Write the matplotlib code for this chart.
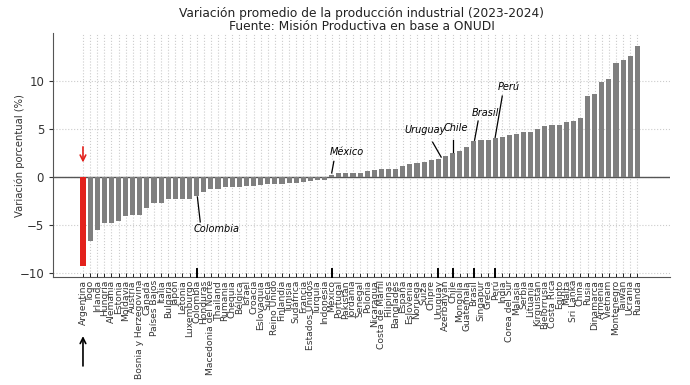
import matplotlib
matplotlib.use("Agg")
import matplotlib.pyplot as plt
import numpy as np

# data
paises = ["Argentina", "Togo", "Irlanda", "Hungría", "Alemania", "Estonia", "Moldavia", "Austria",
          "Bosnia y Herzegovina", "Canadá", "Países Bajos", "Italia", "Bulgaria", "Japón", "Letonia",
          "Luxemburgo", "Colombia", "Honduras", "Macedonia del Norte", "Thailand", "Rumania", "Chequia",
          "Bélgica", "Israel", "Croacia", "Eslovaquia", "Suecia", "Reino Unido", "Finlandia", "Tunisia",
          "Sudáfrica", "Francia", "Estados Unidos", "Turquía", "Indonesia", "México", "Portugal",
          "Pakistán", "Jordania", "Senegal", "Polonia", "Nicaragua", "Costa de Marfil", "Filipinas",
          "Bangladés", "España", "Eslovenia", "Noruega", "Suiza", "Chipre", "Uruguay", "Azerbaiyán",
          "Chile", "Mongolia", "Guatemala", "Brasil", "Singapur", "Grecia", "Perú", "India",
          "Corea del Sur", "Malasia", "Serbia", "Lituania", "Kirguistán", "Bielorrusia", "Costa Rica",
          "Egipto", "Malta", "Sri Lanka", "China", "Rusia", "Dinamarca", "Armenia", "Vietnam",
          "Montenegro", "Taiwán", "Ucrania", "Ruanda"]
variacion = [-9.3, -6.65, -5.5, -4.8, -4.8, -4.65, -4.1, -3.95,
             -3.95, -3.2, -2.75, -2.7, -2.35, -2.3, -2.3,
             -2.3, -1.95, -1.55, -1.3, -1.3, -1.1, -1.05,
             -1.05, -0.95, -0.95, -0.85, -0.8, -0.7, -0.7, -0.6,
             -0.6, -0.5, -0.4, -0.35, -0.3, 0.15, 0.35,
             0.38, 0.4, 0.4, 0.55, 0.7, 0.8, 0.8,
             0.8, 1.15, 1.3, 1.45, 1.5, 1.7, 1.85, 2.2,
             2.45, 2.65, 3.05, 3.7, 3.8, 3.8, 4.0, 4.15,
             4.35, 4.4, 4.7, 4.7, 4.95, 5.3, 5.4,
             5.4, 5.65, 5.8, 6.1, 8.4, 8.6, 9.9, 10.15,
             11.8, 12.2, 12.55, 13.6]
destacados = ["Colombia", "México", "Uruguay", "Chile", "Brasil", "Perú"]

x = np.arange(len(paises))
colores = ["#e3211c" if p == "Argentina" else "#7f7f7f" for p in paises]

fig = plt.figure(figsize=(6.9, 3.85), dpi=100)
ax = fig.add_axes([0.077, 0.28, 0.894, 0.634])

ax.bar(x, variacion, width=0.72, color=colores, zorder=3)
ax.axhline(0, color="#555555", linewidth=1, zorder=2)

ax.set_xticks(x)
ax.set_xticklabels(paises, rotation=90, fontsize=6.6, color="#333333")
ax.tick_params(axis="x", direction="in", length=3, width=0.6, pad=2)
ax.tick_params(axis="y", labelsize=8.5, colors="#333333", length=3)
ax.set_yticks([-10, -5, 0, 5, 10])
ax.set_xlim(-4.2, len(paises) - 1 + 4.6)
ax.set_ylim(-10.45, 14.95)
ax.grid(True, linestyle=":", color="#cccccc", linewidth=0.8, zorder=0)
for s in ["top", "right"]:
    ax.spines[s].set_visible(False)
for s in ["left", "bottom"]:
    ax.spines[s].set_color("#555555")

ax.set_ylabel("Variación porcentual (%)", fontsize=7.2, color="#333333")
ax.yaxis.set_label_coords(-0.045, 0.5)
ax.set_title("Variación promedio de la producción industrial (2023-2024)\n"
             "Fuente: Misión Productiva en base a ONUDI", fontsize=8.8, color="#222222",
             linespacing=1.05, pad=2)

# hand-made marks on the highlighted countries
for p in destacados:
    i = paises.index(p)
    ax.plot([i, i], [-10.45, -9.6], color="black", linewidth=1.4, zorder=4, clip_on=False)

notas = [("Colombia", (18.8, -5.4), (16.1, -2.1), (16.5, -4.7)),
         ("México", (37.2, 2.6), (35.0, 0.4), (35.3, 1.6)),
         ("Uruguay", (48.2, 4.85), (50.4, 2.05), (49.2, 3.6)),
         ("Chile", (52.4, 5.05), (52.1, 2.6), (52.1, 3.8)),
         ("Brasil", (56.6, 6.6), (55.1, 3.8), (55.6, 5.8)),
         ("Perú", (59.9, 9.3), (58.0, 4.1), (59.0, 8.4))]
for texto, pos_txt, a, b in notas:
    ax.text(pos_txt[0], pos_txt[1], texto, fontsize=7, style="italic", ha="center",
            va="center", color="black", zorder=5)
    ax.plot([a[0], b[0]], [a[1], b[1]], color="black", linewidth=0.9, zorder=5)

ax.annotate("", xy=(0, 1.2), xytext=(0, 3.4),
            arrowprops=dict(arrowstyle="->", color="#e3211c", lw=1.2))
ax.annotate("", xy=(0, -0.23), xytext=(0, -0.375), xycoords=("data", "axes fraction"),
            textcoords=("data", "axes fraction"), annotation_clip=False,
            arrowprops=dict(arrowstyle="->", color="black", lw=1.2))

fig.savefig("out.png", dpi=100)
